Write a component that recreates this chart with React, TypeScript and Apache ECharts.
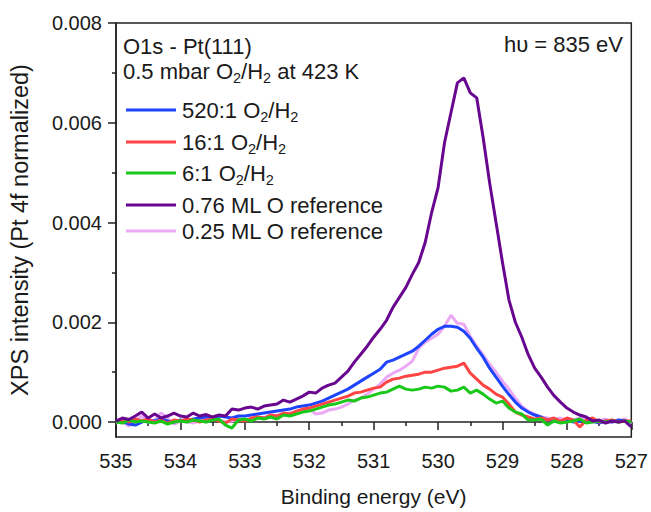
import React, { useEffect, useRef } from "react";
import * as echarts from "echarts";

const energies = [
  535.0, 534.9, 534.8, 534.7, 534.6, 534.5, 534.4, 534.3, 534.2, 534.1,
  534.0, 533.9, 533.8, 533.7, 533.6, 533.5, 533.4, 533.3, 533.2, 533.1,
  533.0, 532.9, 532.8, 532.7, 532.6, 532.5, 532.4, 532.3, 532.2, 532.1,
  532.0, 531.9, 531.8, 531.7, 531.6, 531.5, 531.4, 531.3, 531.2, 531.1,
  531.0, 530.9, 530.8, 530.7, 530.6, 530.5, 530.4, 530.3, 530.2, 530.1,
  530.0, 529.9, 529.8, 529.7, 529.6, 529.5, 529.4, 529.3, 529.2, 529.1,
  529.0, 528.9, 528.8, 528.7, 528.6, 528.5, 528.4, 528.3, 528.2, 528.1,
  528.0, 527.9, 527.8, 527.7, 527.6, 527.5, 527.4, 527.3, 527.2, 527.1,
  527.0,
];

const ratio520 = [
  0, 0.00002, -0.00004, -0.00006, 0, 0.00004, 0.00002, 0.00006, 0.00002, 0,
  0.00004, 0.00002, 0.00006, 0.00008, 0.0001, 0.00008, 0.00012, 0.0001, 0.00008, 0.00012,
  0.00012, 0.00014, 0.00016, 0.00018, 0.0002, 0.00022, 0.00024, 0.00026, 0.0003, 0.00032,
  0.00034, 0.00038, 0.00042, 0.00048, 0.00054, 0.0006, 0.00066, 0.00074, 0.00082, 0.0009,
  0.00098, 0.00106, 0.0012, 0.00124, 0.0013, 0.00136, 0.00142, 0.00152, 0.00164, 0.00176,
  0.00186, 0.00192, 0.00192, 0.0019, 0.00182, 0.00168, 0.00148, 0.0013, 0.00108, 0.0009,
  0.00072, 0.00055, 0.0004, 0.00028, 0.0002, 0.00014, 0.0001, 0.00004, 0.00006, 0,
  0.00004, 0, 0.00002, 0, 0.00002, -0.00002, 0.00002, 0, 0.00004, 0.00002,
  0,
];

const ratio16 = [
  0, 0.00004, 0, 0.00006, 0.00002, 0.00006, 0, 0.00004, -0.00002, 0.00004,
  0.00002, 0.00006, 0.00004, 0, 0.00004, 0.00006, 0.00002, -0.00002, 0.00006, 0.00004,
  0.00002, 0.00008, 0.0001, 0.00008, 0.00014, 0.00012, 0.00018, 0.00016, 0.00022, 0.00026,
  0.00028, 0.00032, 0.00036, 0.0004, 0.00044, 0.00048, 0.00052, 0.00058, 0.0006, 0.00064,
  0.00068, 0.0007, 0.0008, 0.00086, 0.00088, 0.00092, 0.00094, 0.00096, 0.001, 0.001,
  0.00104, 0.00108, 0.0011, 0.00112, 0.00118, 0.00098, 0.00086, 0.00074, 0.00066, 0.00056,
  0.0005, 0.00036, 0.0002, 0.00014, 0.0001, 0.00006, 0.00008, 0.00004, 0.00008, 0.00002,
  0.00008, 0.00004, -0.0001, 0.00004, 0.00008, 0, 0.00002, 0.00004, 0, 0.00002,
  0.00002,
];

const ratio6 = [
  0, -0.00002, 0.00004, 0, 0.00002, 0, -0.00002, 0.00002, -0.00004, 0,
  0.00002, 0, 0.00004, 0.00002, 0, 0.00004, 0.00006, -0.00006, -0.00012, 0.00004,
  0.00006, 0.00002, 0.00008, 0.00006, 0.0001, 0.00006, 0.00014, 0.00012, 0.00016, 0.0002,
  0.00022, 0.00026, 0.0003, 0.00034, 0.00036, 0.0004, 0.00044, 0.00042, 0.00048, 0.0005,
  0.00054, 0.00058, 0.0006, 0.00066, 0.00072, 0.00066, 0.00064, 0.00066, 0.0007, 0.00068,
  0.00072, 0.0007, 0.00062, 0.00064, 0.0007, 0.00058, 0.00064, 0.00056, 0.00046, 0.00038,
  0.00042, 0.00028, 0.0002, 0.00016, 0.00004, 0.00004, 0.00006, -0.00006, 0.00002, -0.00002,
  0, 0.00002, 0.00006, -0.00002, 0, 0.00002, 0, 0.00002, 0, 0.00002,
  0,
];

const ref076 = [
  0.00002, 0.00008, 0.00005, 0.00012, 0.0002, 0.00008, 0.00016, 0.00008, 0.00012, 0.00018,
  0.00012, 0.0001, 0.00018, 0.00012, 0.00015, 0.0001, 0.00014, 0.00012, 0.00026, 0.00024,
  0.00028, 0.0003, 0.00026, 0.00032, 0.00034, 0.00036, 0.00044, 0.0004, 0.00046, 0.00052,
  0.0006, 0.00058, 0.00068, 0.00074, 0.00078, 0.0009, 0.00102, 0.0012, 0.00136, 0.00152,
  0.0017, 0.00186, 0.00204, 0.0023, 0.0025, 0.0027, 0.00296, 0.0032, 0.0036, 0.0042,
  0.0047, 0.0056, 0.0062, 0.0068, 0.0069, 0.0066, 0.0065, 0.0057, 0.0048, 0.004,
  0.0032, 0.00245, 0.002, 0.0017, 0.00135, 0.00108, 0.0009, 0.0007, 0.00053, 0.0004,
  0.00028, 0.0002, 0.00014, 0.0001, 0.00002, 0.00004, -0.00002, 0.00002, 0, 0.00002,
  -0.0001,
];

const ref025 = [
  -0.00002, 0, -0.00008, 0.00002, 0.00012, 0, 0.00004, 0.00018, 0.00008, -0.00004,
  0.00002, 0, -0.00002, 0.00004, 0, 0.00006, 0.00004, 0, 0.00002, 0.00006,
  0.00004, 0.00006, 0.0001, 0.00008, 0.00014, 0.00012, 0.00016, 0.00018, 0.0002, 0.00022,
  0.00026, 0.00016, 0.00018, 0.00024, 0.00026, 0.0003, 0.00036, 0.00044, 0.00048, 0.00056,
  0.00066, 0.00076, 0.0009, 0.00098, 0.00104, 0.00112, 0.00122, 0.00148, 0.0016, 0.00168,
  0.00176, 0.00192, 0.00214, 0.00198, 0.00196, 0.00172, 0.00152, 0.00134, 0.00116, 0.001,
  0.00082, 0.00066, 0.00048, 0.00032, 0.00022, 0.00016, 0.0001, 0.00008, 0.00004, 0.00008,
  0.00002, 0.00004, 0.00008, 0.00006, 0, 0.00002, 0.00006, 0, 0.00002, 0.00006,
  -0.00004,
];

const yMajorTicks = [0, 0.002, 0.004, 0.006, 0.008];
const yMinorTicks = [0.001, 0.003, 0.005, 0.007];

const seriesNames = [
  "520:1 O2/H2",
  "16:1 O2/H2",
  "6:1 O2/H2",
  "0.76 ML O reference",
  "0.25 ML O reference",
];

const legendRich: Record<string, string> = {
  "520:1 O2/H2": "{a|520:1 O}{s|2}{a|/H}{s|2}",
  "16:1 O2/H2": "{a|16:1 O}{s|2}{a|/H}{s|2}",
  "6:1 O2/H2": "{a|6:1 O}{s|2}{a|/H}{s|2}",
  "0.76 ML O reference": "{a|0.76 ML O reference}",
  "0.25 ML O reference": "{a|0.25 ML O reference}",
};

const colors = ["#1f44ff", "#ff4444", "#19c819", "#68068f", "#eba8f5"];
const FONT = '"Liberation Sans", Arial, sans-serif';
const TXT = "#1a1a1a";

const richStyles = {
  a: { fontSize: 22, fontFamily: FONT, color: TXT, lineHeight: 28 },
  s: { fontSize: 14.5, fontFamily: FONT, color: TXT, lineHeight: 14, verticalAlign: "bottom" },
};

function pairs(vals: number[]) {
  return energies.map((e, i) => [e, vals[i]]);
}

export default function App() {
  const ref = useRef<HTMLDivElement>(null);
  useEffect(() => {
    if (!ref.current) return;
    const chart = echarts.init(ref.current, undefined, { renderer: "svg" });
    const valuesList = [ratio520, ratio16, ratio6, ref076, ref025];
    const drawOrder = [4, 0, 1, 2, 3];
    const legendTops = [99, 131, 162, 194, 220];
    const option: any = {
      animation: false,
      backgroundColor: "#ffffff",
      grid: {
        left: 115,
        right: 16,
        top: 23,
        bottom: 70,
        show: true,
        borderColor: "#222",
        borderWidth: 1.5,
        containLabel: false,
      },
      xAxis: {
        type: "value",
        min: 527,
        max: 535,
        interval: 1,
        inverse: true,
        name: "Binding energy (eV)",
        nameLocation: "middle",
        nameGap: 49,
        nameTextStyle: { fontSize: 21, fontFamily: FONT, color: TXT },
        axisLine: { show: true, lineStyle: { color: "#222", width: 1.5 } },
        axisTick: { show: true, inside: false, length: 8, lineStyle: { color: "#222", width: 1.5 } },
        minorTick: { show: true, splitNumber: 2, length: 4, lineStyle: { color: "#222", width: 1.5 } },
        axisLabel: { fontSize: 20, fontFamily: FONT, color: TXT, margin: 14 },
        splitLine: { show: false },
      },
      yAxis: [
        {
          type: "value",
          min: -0.0003,
          max: 0.008,
          position: "left",
          name: "XPS intensity (Pt 4f normalized)",
          nameLocation: "middle",
          nameGap: 84,
          nameTextStyle: { fontSize: 23.5, fontFamily: FONT, color: TXT },
          axisLine: { show: true, lineStyle: { color: "#222", width: 1.5 } },
          axisTick: {
            show: true,
            inside: false,
            length: 8,
            customValues: yMajorTicks,
            lineStyle: { color: "#222", width: 1.5 },
          },
          axisLabel: {
            fontSize: 20,
            fontFamily: FONT,
            color: TXT,
            margin: 14,
            customValues: yMajorTicks,
            formatter: (v: number) => v.toFixed(3),
          },
          splitLine: { show: false },
        },
        {
          type: "value",
          min: -0.0003,
          max: 0.008,
          position: "left",
          axisLine: { show: false },
          axisTick: {
            show: true,
            inside: false,
            length: 4,
            customValues: yMinorTicks,
            lineStyle: { color: "#222", width: 1.5 },
          },
          axisLabel: { show: false },
          splitLine: { show: false },
        },
      ],
      legend: seriesNames.map((n, i) => ({
        show: true,
        data: [n],
        left: 126,
        top: legendTops[i],
        orient: "vertical",
        padding: 0,
        itemGap: 0,
        itemWidth: 50,
        itemHeight: 3,
        icon: "rect",
        selectedMode: false,
        formatter: (name: string) => legendRich[name],
        textStyle: { rich: richStyles, padding: [0, 0, 0, 1] },
      })),
      graphic: [
        {
          type: "text",
          x: 123,
          y: 46,
          style: {
            text: "O1s - Pt(111)",
            font: `22px ${FONT}`,
            fill: TXT,
            align: "left",
            verticalAlign: "middle",
          },
        },
        {
          type: "text",
          x: 123,
          y: 71,
          style: {
            text: "{a|0.5 mbar O}{s|2}{a|/H}{s|2}{a| at 423 K}",
            rich: {
              a: { fontSize: 22, fontFamily: FONT, fill: TXT, lineHeight: 28 },
              s: { fontSize: 14.5, fontFamily: FONT, fill: TXT, lineHeight: 14, verticalAlign: "bottom" },
            },
            align: "left",
            verticalAlign: "middle",
          },
        },
        {
          type: "text",
          x: 623,
          y: 44,
          style: {
            text: "h\u03c5 = 835 eV",
            font: `22px ${FONT}`,
            fill: TXT,
            align: "right",
            verticalAlign: "middle",
          },
        },
      ],
      series: drawOrder.map((i) => ({
        name: seriesNames[i],
        type: "line",
        xAxisIndex: 0,
        yAxisIndex: 0,
        data: pairs(valuesList[i]),
        showSymbol: false,
        symbol: "none",
        color: colors[i],
        lineStyle: { color: colors[i], width: 3 },
        z: 2,
      })),
    };
    chart.setOption(option);
    return () => chart.dispose();
  }, []);
  return (
    <div
      ref={ref}
      style={{ position: "fixed", left: 0, top: 0, width: 651, height: 512 }}
    />
  );
}
